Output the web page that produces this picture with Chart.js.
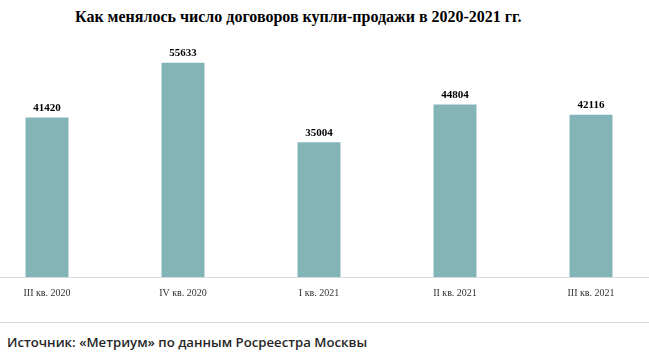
<!DOCTYPE html>
<html><head><meta charset="utf-8">
<script src="https://cdn.jsdelivr.net/npm/chart.js@4/dist/chart.umd.min.js"></script>
<style>
html,body{margin:0;padding:0;background:#fff;width:649px;height:357px;overflow:hidden;position:relative}
#title{position:absolute;left:75px;top:8px;font:bold 16px "Liberation Serif","Times New Roman",serif;color:#000;white-space:nowrap}
#wrap{position:absolute;left:-21px;top:0;width:680px;height:320px}
#sep{position:absolute;left:0;top:322px;width:649px;height:1px;background:#d9d9d9}
#src{position:absolute;left:7px;top:333px;font:600 13.2px "Open Sans",sans-serif;color:#262626;white-space:nowrap}
</style></head>
<body>
<div id="title">Как менялось число договоров купли-продажи в 2020-2021 гг.</div>
<div id="wrap"><canvas id="c"></canvas></div>
<div id="sep"></div>
<div id="src">Источник: «Метриум» по данным Росреестра Москвы</div>
<script>
const categories = ["III кв. 2020", "IV кв. 2020", "I кв. 2021", "II кв. 2021", "III кв. 2021"];
const contracts = [41420, 55633, 35004, 44804, 42116];

const labelPlugin = {
  id: 'valueLabels',
  afterDatasetsDraw(chart) {
    const ctx = chart.ctx;
    const meta = chart.getDatasetMeta(0);
    ctx.save();
    ctx.font = 'bold 11px "Liberation Serif", serif';
    ctx.fillStyle = '#000';
    ctx.textAlign = 'center';
    ctx.textBaseline = 'bottom';
    meta.data.forEach((bar, i) => {
      ctx.fillText(String(contracts[i]), bar.x, bar.y - 4);
    });
    ctx.restore();
  }
};

new Chart(document.getElementById('c'), {
  type: 'bar',
  data: {
    labels: categories,
    datasets: [{
      data: contracts,
      backgroundColor: '#83b4b8',
      borderWidth: 0,
      categoryPercentage: 1,
      barPercentage: 0.316
    }]
  },
  options: {
    responsive: true,
    maintainAspectRatio: false,
    animation: false,
    layout: { padding: { top: 46, left: 0, right: 0, bottom: 0 } },
    plugins: { legend: { display: false }, tooltip: { enabled: false }, title: { display: false } },
    scales: {
      x: {
        grid: { display: false, drawTicks: false },
        border: { display: true, color: '#d9d9d9', width: 1 },
        ticks: { padding: 10, color: '#333333', font: { family: '"Liberation Serif", serif', size: 10 } },
        afterFit(scale) { scale.height = 43; }
      },
      y: {
        display: false,
        min: 0,
        max: 60000
      }
    }
  },
  plugins: [labelPlugin]
});
</script>
</body></html>
